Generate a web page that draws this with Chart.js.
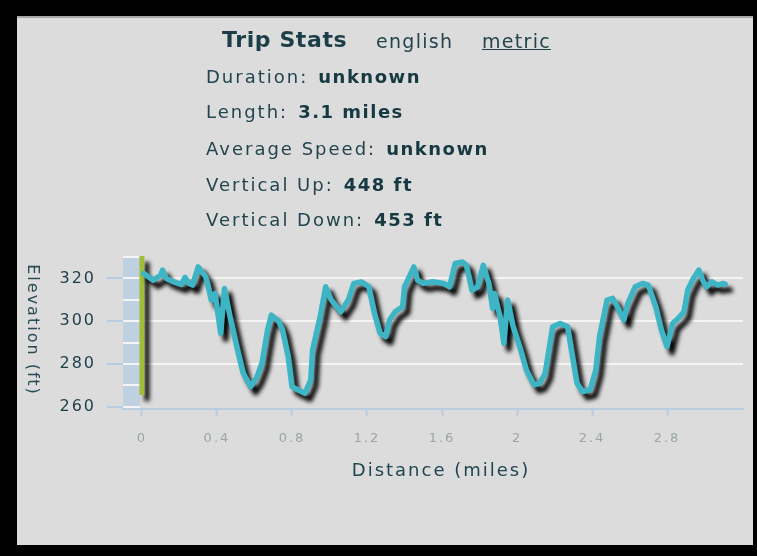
<!DOCTYPE html>
<html>
<head>
<meta charset="utf-8">
<script src="https://cdn.jsdelivr.net/npm/chart.js@4.4.1/dist/chart.umd.min.js"></script>
<style>
  html, body { margin: 0; padding: 0; background: #000; width: 757px; height: 556px; overflow: hidden; }
  #panel { position: absolute; left: 17px; top: 16px; width: 736px; height: 529px; background: #dcdcdc; border-top: 2px solid #a9a9a9; box-sizing: border-box; }
  #chart { position: absolute; left: 0; top: 0; }
  .txt { position: absolute; font-family: "DejaVu Sans", sans-serif; color: #1b3e48; white-space: nowrap; line-height: 1; }
  .head { font-size: 22px; font-weight: bold; letter-spacing: 0.6px; }
  .unit { font-size: 19px; letter-spacing: 1.3px; color: #24444d; }
  .stat { left: 206px; font-size: 18px; letter-spacing: 2px; color: #22454e; }
  .stat b { letter-spacing: 1.5px; margin-left: 10px; color: #163942; }
</style>
</head>
<body>
<div id="panel"></div>
<canvas id="chart" width="757" height="556"></canvas>
<div class="txt head" style="left:222px; top:29px;">Trip Stats</div>
<div class="txt unit" style="left:376px; top:32px;">english</div>
<div class="txt unit" style="left:482px; top:32px; text-decoration:underline;">metric</div>
<div class="txt stat" style="top:68px;">Duration:<b>unknown</b></div>
<div class="txt stat" style="top:103px;">Length:<b>3.1 miles</b></div>
<div class="txt stat" style="top:140px;">Average Speed:<b>unknown</b></div>
<div class="txt stat" style="top:176px;">Vertical Up:<b>448 ft</b></div>
<div class="txt stat" style="top:211px;">Vertical Down:<b>453 ft</b></div>
<script>
// elevation profile
const distances = [
  0.01, 0.06, 0.10, 0.11, 0.13, 0.17, 0.21, 0.23, 0.25, 0.27,
  0.30, 0.34, 0.35, 0.37, 0.39, 0.42, 0.44, 0.47, 0.51, 0.54,
  0.58, 0.61, 0.64, 0.67, 0.69, 0.73, 0.75, 0.78, 0.80, 0.83,
  0.87, 0.90, 0.91, 0.95, 0.98, 1.01, 1.06, 1.10, 1.13, 1.17,
  1.21, 1.24, 1.27, 1.30, 1.32, 1.35, 1.39, 1.40, 1.45, 1.47,
  1.50, 1.55, 1.61, 1.64, 1.67, 1.71, 1.73, 1.76, 1.79, 1.82,
  1.85, 1.87, 1.88, 1.91, 1.93, 1.95, 1.98, 2.02, 2.05, 2.09,
  2.12, 2.15, 2.17, 2.19, 2.23, 2.27, 2.29, 2.32, 2.35, 2.39,
  2.42, 2.44, 2.48, 2.51, 2.54, 2.57, 2.59, 2.63, 2.67, 2.70,
  2.74, 2.77, 2.80, 2.83, 2.86, 2.89, 2.91, 2.94, 2.97, 2.99,
  3.01, 3.04, 3.07, 3.10, 3.11
];
const elevations = [
  322.3, 319.2, 321.5, 323.9, 320.0, 318.4, 317.2, 320.5, 317.7, 316.9,
  325.4, 320.7, 317.7, 309.9, 313.0, 294.4, 315.3, 302.1, 286.6, 275.7,
  269.5, 273.4, 280.4, 295.9, 302.9, 299.8, 295.9, 283.5, 269.5, 268.0,
  266.4, 272.6, 286.6, 302.1, 316.1, 309.9, 304.4, 309.9, 317.7, 318.4,
  316.1, 303.7, 294.4, 292.8, 300.6, 304.4, 306.8, 316.1, 325.4, 319.2,
  317.7, 318.5, 317.7, 316.1, 327.0, 327.7, 326.2, 314.5, 316.1, 326.2,
  317.7, 306.0, 313.0, 302.1, 289.7, 309.9, 297.4, 286.6, 277.2, 270.3,
  271.0, 275.7, 286.6, 297.4, 299.0, 297.4, 286.6, 271.0, 267.1, 268.0,
  277.2, 292.8, 309.9, 310.7, 306.0, 300.6, 308.3, 316.1, 317.7, 316.9,
  306.8, 295.9, 288.1, 299.0, 301.4, 304.4, 314.5, 320.0, 323.9, 319.2,
  316.1, 318.4, 316.9, 317.7, 317.3
];
// position marker at the start of the trip
const markerDistance = [0, 0];
const markerElevation = [330.5, 265.5];

const xTicks = [0, 0.4, 0.8, 1.2, 1.6, 2, 2.4, 2.8];
const yTicks = [260, 280, 300, 320];
const xTitle = "Distance (miles)";
const yTitle = "Elevation (ft)";

const lightBlue = "#b9cce0";

const decor = {
  id: "decor",
  beforeDraw(chart) {
    chart.ctx.letterSpacing = "2px";
  },
  beforeDatasetsDraw(chart) {
    const { ctx, chartArea, scales } = chart;
    const stripRight = scales.x.getPixelForValue(0) - 2;
    ctx.save();
    ctx.fillStyle = "#bfd0e1";
    ctx.fillRect(chartArea.left, chartArea.top, stripRight - chartArea.left, chartArea.bottom - chartArea.top);
    ctx.strokeStyle = "#f4f4f4";
    ctx.lineWidth = 2;
    for (let v = 260; v <= 330; v += 10) {
      const py = Math.round(scales.y.getPixelForValue(v));
      ctx.beginPath();
      ctx.moveTo(chartArea.left, py);
      ctx.lineTo(stripRight, py);
      ctx.stroke();
    }
    ctx.restore();
  },
  beforeDatasetDraw(chart) {
    const ctx = chart.ctx;
    ctx.save();
    ctx.shadowColor = "rgba(0,0,0,1)";
    ctx.shadowBlur = 4;
    ctx.shadowOffsetX = 5;
    ctx.shadowOffsetY = 6;
  },
  afterDatasetDraw(chart) {
    chart.ctx.restore();
  },
  afterDraw(chart) {
    const { ctx, chartArea } = chart;
    ctx.save();
    ctx.letterSpacing = "2px";
    ctx.textAlign = "center";
    ctx.textBaseline = "middle";
    ctx.fillStyle = "#1e4650";
    ctx.font = '18px "DejaVu Sans"';
    ctx.fillText(xTitle, 441, chartArea.bottom + 62);
    ctx.fillStyle = "#2a4b55";
    ctx.font = '16px "DejaVu Sans"';
    ctx.translate(32, 330);
    ctx.rotate(Math.PI / 2);
    ctx.fillText(yTitle, 0, 0);
    ctx.restore();
  }
};

new Chart(document.getElementById("chart"), {
  type: "line",
  data: {
    datasets: [
      {
        data: distances.map((d, i) => ({ x: d, y: elevations[i] })),
        borderColor: "#3db5c5",
        borderWidth: 5.5,
        borderJoinStyle: "round",
        borderCapStyle: "round",
        pointRadius: 0,
        tension: 0,
      },
      {
        data: markerDistance.map((d, i) => ({ x: d, y: markerElevation[i] })),
        borderColor: "#a0bd3a",
        borderWidth: 5,
        pointRadius: 0,
      },
    ],
  },
  options: {
    responsive: false,
    animation: false,
    layout: { padding: { top: 256, left: 0, right: 14, bottom: 47 } },
    plugins: { legend: { display: false }, tooltip: { enabled: false } },
    scales: {
      x: {
        type: "linear",
        min: -0.101,
        max: 3.205,
        afterBuildTicks: (s) => { s.ticks = xTicks.map((v) => ({ value: v })); },
        afterFit: (s) => { s.height = 100; },
        ticks: {
          color: "#9aa5a7",
          font: { family: "DejaVu Sans", size: 13 },
          padding: 15,
          callback: (v) => String(v),
        },
        grid: { drawOnChartArea: false, tickLength: 7, tickColor: lightBlue, tickWidth: 2 },
        border: { color: lightBlue, width: 2 },
      },
      y: {
        min: 259,
        max: 330.5,
        afterBuildTicks: (s) => { s.ticks = yTicks.map((v) => ({ value: v })); },
        afterFit: (s) => { s.width = 123; },
        ticks: {
          color: "#1b3e48",
          font: { family: "DejaVu Sans", size: 16 },
          padding: 11,
        },
        grid: {
          color: (c) => (c.tick && c.tick.value === 260 ? "rgba(0,0,0,0)" : "#f4f4f4"),
          lineWidth: 2,
          tickLength: 16,
          tickColor: lightBlue,
          tickWidth: 2,
        },
        border: { display: false },
      },
    },
  },
  plugins: [decor],
});
</script>
</body>
</html>
